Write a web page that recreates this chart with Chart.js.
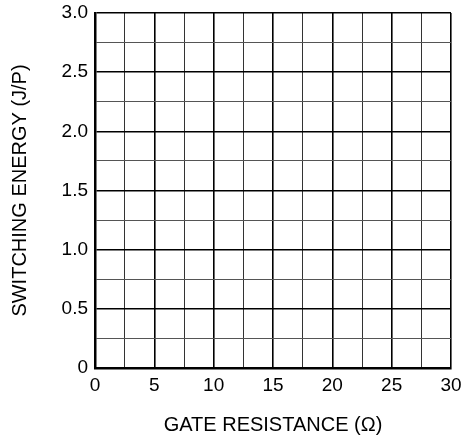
<!DOCTYPE html>
<html>
	<head>
		<meta http-equiv="content-type" content="text/html; charset=UTF-8">
		<script src="https://cdn.jsdelivr.net/npm/chart.js@4/dist/chart.umd.min.js"></script>
		<style>
			body { margin: 0; background: #fff; }
			#wrap { width: 464px; height: 441px; }
		</style>
	</head>
	<body>
		<div id="wrap"><canvas id="chart" width="464" height="441"></canvas></div>
		<script type="text/javascript">
			// axis ranges and tick marks (empty grid)
			var xTicks = [0, 5, 10, 15, 20, 25, 30];
			var yTicks = [0, 0.5, 1.0, 1.5, 2.0, 2.5, 3.0];
			var xTitle = 'GATE RESISTANCE (\u03A9)';
			var yTitle = 'SWITCHING ENERGY (J/P)';
			// no curves drawn on this chart
			var seriesValues = [];

			var font = { family: "'Liberation Sans', Arial, sans-serif", size: 19 };
			var titleFont = { family: "'Liberation Sans', Arial, sans-serif", size: 20 };

			function isMajor(v, step) {
				return Math.abs(v / step - Math.round(v / step)) < 1e-6;
			}

			new Chart(document.getElementById('chart'), {
				type: 'scatter',
				data: { datasets: [{ data: seriesValues, showLine: true, borderColor: '#000' }] },
				options: {
					responsive: false,
					animation: false,
					layout: { padding: { top: 13, right: 13, left: 0, bottom: 0 } },
					plugins: { legend: { display: false }, tooltip: { enabled: false } },
					scales: {
						x: {
							type: 'linear',
							min: xTicks[0],
							max: xTicks[xTicks.length - 1],
							border: { color: '#000', width: 2.5 },
							grid: {
								drawTicks: false,
								color: function(c) { return isMajor(c.tick.value, 5) ? '#000' : '#333'; },
								lineWidth: function(c) { return isMajor(c.tick.value, 5) ? 1.6 : 1; }
							},
							ticks: {
								stepSize: 2.5,
								padding: 6,
								color: '#000',
								font: font,
								maxRotation: 0,
								autoSkip: false,
								callback: function(v) { return xTicks.indexOf(v) >= 0 ? String(v) : ''; }
							},
							title: { display: true, text: xTitle, color: '#000', font: titleFont, padding: { top: 0, bottom: 4 } },
							afterFit: function(s) { s.height = 73; s.paddingLeft = 0; s.paddingRight = 0; }
						},
						y: {
							type: 'linear',
							min: yTicks[0],
							max: yTicks[yTicks.length - 1],
							border: { color: '#000', width: 2.5 },
							grid: {
								drawTicks: false,
								color: function(c) { return isMajor(c.tick.value, 0.5) ? '#000' : '#555'; },
								lineWidth: function(c) { return isMajor(c.tick.value, 0.5) ? 1.6 : 1; }
							},
							ticks: {
								stepSize: 0.25,
								padding: 7,
								color: '#000',
								font: font,
								autoSkip: false,
								callback: function(v) {
									if (!isMajor(v, 0.5)) return '';
									return v === 0 ? '0' : v.toFixed(1);
								}
							},
							title: { display: true, text: yTitle, color: '#000', font: titleFont, padding: { top: 8, bottom: 0 } },
							afterFit: function(s) { s.width = 95; s.paddingTop = 0; s.paddingBottom = 0; }
						}
					}
				}
			});
		</script>
	</body>
</html>
